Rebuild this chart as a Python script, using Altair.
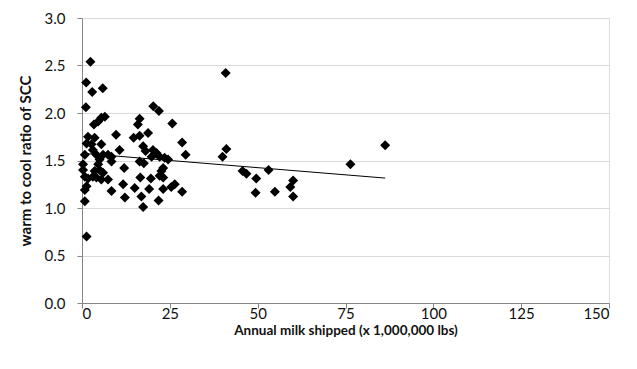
import altair as alt
import pandas as pd

# Annual milk shipped (x 1,000,000 lbs)
milk = [
    2.4, 1.2, 2.9, 5.9, 1.1, 20.3, 21.9, 40.9,
    3.4, 4.6, 5.5, 6.5, 16.4, 15.9, 25.7,
    9.7, 14.7, 16.4, 18.8, 1.7, 3.6, 28.5, 1.3, 2.7, 5.5,
    41.1, 3.1, 10.7, 17.4, 18.1, 20.2, 21.2, 19.8, 22.1, 23.5, 24.5, 29.5, 40.0,
    0.8, 6.0, 7.4, 8.4, 4.1, 5.0, 8.4, 16.4, 17.6, 0.3, 4.6,
    0.3, 3.6, 6.0, 12.0, 23.1, 22.6, 22.1, 0.8, 4.1, 5.5, 7.4, 16.6, 19.6, 23.1,
    1.3, 0.8, 8.4, 11.7, 15.0, 19.1, 23.1, 25.4, 26.4, 28.5,
    12.2, 16.9, 21.8, 17.4, 0.8, 1.3,
    45.7, 46.8, 49.6, 49.4, 53.1, 54.9, 60.1, 59.3, 60.1, 76.4, 86.3,
    1.7, 5.0, 3.1,
]
# warm to cool ratio of SCC
ratio = [
    2.54, 2.32, 2.22, 2.26, 2.06, 2.07, 2.02, 2.42,
    1.88, 1.91, 1.95, 1.96, 1.94, 1.88, 1.89,
    1.77, 1.74, 1.76, 1.79, 1.75, 1.74, 1.69, 1.68, 1.67, 1.67,
    1.62, 1.61, 1.61, 1.65, 1.60, 1.61, 1.58, 1.54, 1.54, 1.53, 1.51, 1.56, 1.54,
    1.56, 1.56, 1.56, 1.54, 1.56, 1.51, 1.49, 1.49, 1.47, 1.46, 1.46,
    1.40, 1.39, 1.37, 1.42, 1.42, 1.39, 1.34, 1.33, 1.32, 1.30, 1.30, 1.32, 1.31, 1.32,
    1.23, 1.19, 1.18, 1.25, 1.21, 1.20, 1.20, 1.22, 1.25, 1.17,
    1.11, 1.12, 1.08, 1.01, 1.07, 0.70,
    1.39, 1.36, 1.31, 1.16, 1.40, 1.17, 1.29, 1.22, 1.12, 1.46, 1.66,
    1.31, 1.40, 1.33,
]

x_ticks = [0, 25, 50, 75, 100, 125, 150]
y_ticks = [0.0, 0.5, 1.0, 1.5, 2.0, 2.5, 3.0]

df = pd.DataFrame({"milk": milk, "ratio": ratio})

FONT = "Lato"
TEXT = "#111111"

x_enc = alt.X(
    "milk:Q",
    scale=alt.Scale(domain=[0, 150], nice=False, zero=True),
    axis=alt.Axis(
        title="Annual milk shipped (x 1,000,000 lbs)",
        values=x_ticks,
        format="d",
        grid=False,
        domainColor="#868686",
        tickColor="#868686",
        tickSize=5,
        labelPadding=-2,
        labelFontSize=15,
        labelFont=FONT,
        labelColor=TEXT,
        titleFont=FONT,
        titleFontSize=13.5,
        titleFontWeight="bold",
        titleColor=TEXT,
        titlePadding=2,
    ),
)
y_enc = alt.Y(
    "ratio:Q",
    scale=alt.Scale(domain=[0, 3], nice=False),
    axis=alt.Axis(
        title="warm to cool ratio of SCC",
        values=y_ticks,
        format=".1f",
        grid=True,
        gridColor="#d9d9d9",
        gridWidth=1,
        domainColor="#868686",
        tickColor="#868686",
        tickSize=5,
        labelPadding=12,
        labelFontSize=15,
        labelFont=FONT,
        labelColor=TEXT,
        titleFont=FONT,
        titleFontSize=15,
        titleFontWeight="bold",
        titleColor=TEXT,
        titlePadding=11,
    ),
)

points = alt.Chart(df).mark_point(
    shape="diamond", filled=True, color="black", size=100, opacity=1
).encode(x=x_enc, y=y_enc)

trend = (
    alt.Chart(df)
    .transform_regression("milk", "ratio")
    .mark_line(color="black", strokeWidth=1)
    .encode(x="milk:Q", y="ratio:Q")
)

chart = (
    alt.layer(points, trend)
    .properties(
        width=527,
        height=285,
        autosize="none",
        padding={"left": 74, "top": 10, "right": 20, "bottom": 58},
    )
    .configure_view(stroke=None)
    .configure(background="white")
)

chart.save("out.html", embed_options={"renderer": "svg", "actions": False})
